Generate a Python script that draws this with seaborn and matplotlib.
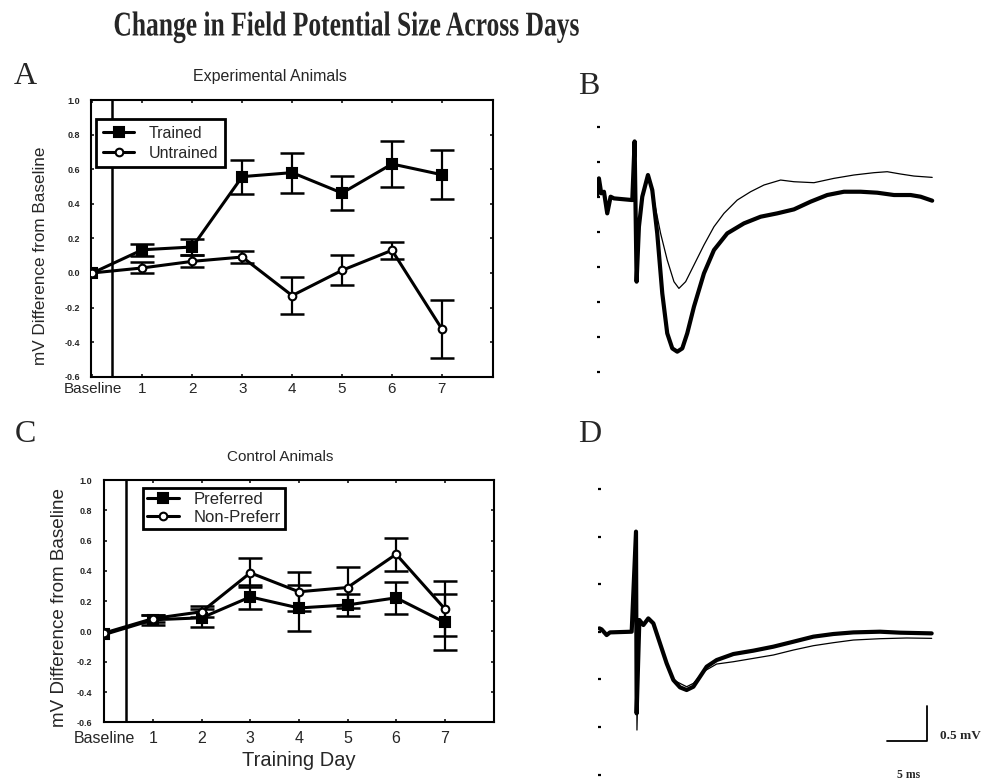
import numpy as np
import pandas as pd
import matplotlib
matplotlib.use("Agg")
import matplotlib.pyplot as plt
import matplotlib.patheffects as pe
from matplotlib.transforms import Affine2D
import seaborn as sns

# ---------------- data ----------------
days = [0, 1, 2, 3, 4, 5, 6, 7]
day_labels = ["Baseline", "1", "2", "3", "4", "5", "6", "7"]
mv_ticks = [-0.6, -0.4, -0.2, 0.0, 0.2, 0.4, 0.6, 0.8, 1.0]
mv_tick_labels = ["-0.6", "-0.4", "-0.2", "0.0", "0.2", "0.4", "0.6", "0.8", "1.0"]

# Panel A: experimental animals
trained_mean = [0.00, 0.134, 0.150, 0.557, 0.580, 0.462, 0.630, 0.568]
trained_err = [0.0, 0.034, 0.045, 0.098, 0.115, 0.100, 0.135, 0.143]
untrained_mean = [0.00, 0.029, 0.067, 0.092, -0.131, 0.015, 0.131, -0.324]
untrained_err = [0.0, 0.032, 0.035, 0.033, 0.108, 0.087, 0.048, 0.168]

# Panel C: control animals
preferred_mean = [-0.02, 0.077, 0.090, 0.228, 0.155, 0.175, 0.222, 0.060]
preferred_err = [0.0, 0.033, 0.060, 0.080, 0.150, 0.075, 0.105, 0.185]
nonpref_mean = [-0.01, 0.085, 0.130, 0.387, 0.262, 0.290, 0.510, 0.150]
nonpref_err = [0.0, 0.025, 0.035, 0.095, 0.130, 0.135, 0.110, 0.180]

# Panel B: field potential traces (ms, mV)
b_thick_ms = [-4.67, -4.46, -4.17, -3.83, -3.42, -3.0, -2.58, -0.29, 0.0, 0.25, 0.54, 0.96,
              1.67, 2.21, 2.83, 3.46, 4.08, 4.71, 5.33, 5.96, 6.58, 7.42, 8.67, 9.92, 11.58,
              13.67, 15.75, 17.83, 19.92, 22.0, 24.08, 26.17, 28.25, 30.33, 32.42, 34.5, 35.75, 37.2]
b_thick_mv = [0.024, 0.262, 0.048, 0.071, -0.238, 0.0, -0.024, -0.048, 0.79, -1.214, -0.429, 0.0,
              0.31, 0.095, -0.524, -1.381, -1.952, -2.167, -2.214, -2.167, -1.952, -1.571, -1.095,
              -0.762, -0.524, -0.381, -0.286, -0.238, -0.181, -0.071, 0.024, 0.071, 0.071, 0.057,
              0.024, 0.024, 0.0, -0.057]
b_thin_ms = [0.96, 1.67, 2.42, 3.25, 4.08, 4.92, 5.54, 6.38, 7.42, 8.67, 9.92, 11.17, 12.83,
             14.5, 16.17, 18.25, 19.92, 22.42, 24.92, 27.42, 29.92, 31.58, 33.25, 34.92, 37.2]
b_thin_mv = [0.0, 0.286, -0.048, -0.524, -0.905, -1.214, -1.31, -1.214, -0.976, -0.69, -0.429,
             -0.238, -0.048, 0.071, 0.167, 0.238, 0.214, 0.2, 0.262, 0.31, 0.343, 0.357, 0.324,
             0.295, 0.276]
b_dots_mv = [1.0, 0.5, 0.0, -0.5, -1.0, -1.5, -2.0, -2.5]

# Panel D: field potential traces (ms, mV)
d_thick_ms = [-4.58, -4.3, -3.67, -3.25, -0.54, 0.0, 0.08, 0.42, 0.92, 1.54, 2.17, 3.0, 3.83,
              4.67, 5.5, 6.33, 7.17, 8.0, 8.83, 10.08, 12.17, 14.67, 17.17, 19.67, 22.17, 24.67,
              27.17, 30.5, 33.0, 36.96]
d_thick_mv = [0.048, 0.033, -0.048, -0.01, 0.0, 1.43, -1.167, 0.167, 0.095, 0.19, 0.119, -0.167,
              -0.452, -0.69, -0.795, -0.833, -0.786, -0.643, -0.5, -0.405, -0.319, -0.271, -0.214,
              -0.143, -0.071, -0.033, -0.01, 0.0, -0.014, -0.024]
d_thin_ms = [-0.54, 0.0, 0.12, 0.42, 0.92, 1.54, 2.17, 3.0, 3.83, 4.67, 5.5, 6.33, 7.17, 8.42,
             10.08, 12.17, 14.67, 17.17, 19.67, 22.17, 24.67, 27.17, 30.5, 33.83, 36.96]
d_thin_mv = [0.0, 1.43, -1.405, 0.167, 0.095, 0.19, 0.119, -0.167, -0.452, -0.69, -0.738,
             -0.786, -0.738, -0.571, -0.462, -0.429, -0.381, -0.333, -0.262, -0.2, -0.157,
             -0.119, -0.1, -0.09, -0.095]
d_dots_mv = [2.04, 1.36, 0.68, 0.0, -0.68, -1.36, -2.04]
scale_ms = [31.33, 36.33]
scale_mv = [-1.557, -1.062]

# ---------------- style ----------------
sns.set_style("ticks")
plt.rcParams["font.family"] = ["Liberation Sans", "DejaVu Sans"]
plt.rcParams["axes.linewidth"] = 1.5

W, H = 989, 782
fig = plt.figure(figsize=(W / 100, H / 100), dpi=100)


def px_axes(left, top, right, bottom):
    return fig.add_axes([left / W, 1 - bottom / H, (right - left) / W, (bottom - top) / H])


axA = px_axes(91, 100, 493.3, 376.7)
axC = px_axes(103.5, 480, 494.3, 722.3)
axB = px_axes(597, 119.7, 938.6, 378.7)
axD = px_axes(598.4, 477.7, 940, 778.7)


def summary_panel(ax, series, xlim, vline_x, xfs, leg_anchor, leg_fs, leg_kw):
    for name, mean, err, filled in series:
        df = pd.DataFrame({"day": days, "mv": mean})
        sns.lineplot(data=df, x="day", y="mv", ax=ax, color="black", lw=2.2,
                     marker="s" if filled else "o", markersize=6.5 if filled else 5.5,
                     mfc="black" if filled else "white", mec="black", mew=1.5,
                     label=name, sort=False, estimator=None, zorder=4)
        ax.errorbar(days[1:], mean[1:], yerr=err[1:], fmt="none", ecolor="black",
                    elinewidth=1.6, capsize=8.5, capthick=1.8, zorder=3, label="_nolegend_")
    ax.axvline(vline_x, color="black", lw=1.8, zorder=2)
    ax.set_xlim(*xlim)
    ax.set_ylim(-0.6, 1.0)
    ax.set_xticks(days)
    ax.set_xticklabels(day_labels, fontsize=xfs)
    ax.set_yticks(mv_ticks)
    ax.set_yticklabels(mv_tick_labels, fontsize=6.5, fontweight="bold")
    ax.tick_params(direction="in", length=2.5, width=1.3, top=True, right=True)
    ax.tick_params(axis="x", pad=4)
    ax.tick_params(axis="y", pad=8)
    ax.set_xlabel("")
    for s in ax.spines.values():
        s.set_linewidth(1.5)
        s.set_color("black")
    leg = ax.legend(loc="upper left", bbox_to_anchor=leg_anchor, borderaxespad=0,
                    frameon=True, fancybox=False, edgecolor="black", framealpha=1,
                    fontsize=leg_fs, handletextpad=0.9, **leg_kw)
    leg.get_frame().set_linewidth(2)


summary_panel(axA,
              [("Trained", trained_mean, trained_err, True),
               ("Untrained", untrained_mean, untrained_err, False)],
              (-0.03, 8.03), 0.4, 11, (0.012, 0.931), 11.5,
              dict(handlelength=2.0, borderpad=0.42, labelspacing=0.3))
axA.set_ylabel("mV Difference from Baseline", fontsize=12.3)
axA.yaxis.set_label_coords(-0.108, 0.436)

summary_panel(axC,
              [("Preferred", preferred_mean, preferred_err, True),
               ("Non-Preferr", nonpref_mean, nonpref_err, False)],
              (-0.02, 8.02), 0.44, 11.5, (0.101, 0.967), 12,
              dict(handlelength=1.9, borderpad=0.25, labelspacing=0.15))
axC.tick_params(axis="x", pad=6)
axC.set_ylabel("mV Difference from Baseline", fontsize=13.6)
axC.yaxis.set_label_coords(-0.091, 0.472)
axC.set_xlabel("Training Day", fontsize=14.5, labelpad=4)

fig.text(270 / W, 1 - 77 / H, "Experimental Animals", ha="center", va="center", fontsize=11.5)
fig.text(280 / W, 1 - 457 / H, "Control Animals", ha="center", va="center", fontsize=11)


def trace_panel(ax, thick_t, thick_v, thin_t, thin_v, dots, xlim, ylim):
    sns.lineplot(x=thin_t, y=thin_v, ax=ax, color="black", lw=0.9, sort=False,
                 estimator=None, zorder=3)
    sns.lineplot(x=thick_t, y=thick_v, ax=ax, color="black", lw=3.0, sort=False,
                 estimator=None, zorder=2, solid_joinstyle="round")
    ax.set_xlim(*xlim)
    ax.set_ylim(*ylim)
    for s in ax.spines.values():
        s.set_visible(False)
    ax.set_xticks([])
    ax.set_yticks(dots)
    ax.set_yticklabels([])
    ax.tick_params(axis="y", direction="in", length=2, width=1.6, left=True, colors="black")
    ax.set_xlabel("")
    ax.set_ylabel("")
    ax.patch.set_alpha(0)


trace_panel(axB, b_thick_ms, b_thick_mv, b_thin_ms, b_thin_mv, b_dots_mv, (-4.7, 38), (-2.6, 1.1))
trace_panel(axD, d_thick_ms, d_thick_mv, d_thin_ms, d_thin_mv, d_dots_mv, (-4.7, 38), (-2.1, 2.2))

# scale bar in panel D
axD.plot([scale_ms[0], scale_ms[1], scale_ms[1]], [scale_mv[0], scale_mv[0], scale_mv[1]],
         color="black", lw=1.3, clip_on=False)
axD.text(38.0, scale_mv[0] + 0.07, "0.5 mV", fontsize=9.5, family="Liberation Serif",
         fontweight="bold", ha="left", va="center")
axD.text(34.1, -2.05, "5 ms", fontsize=8.5, family="Liberation Serif", fontweight="bold",
         ha="center", va="center")


class HStretch(pe.AbstractPathEffect):
    """Render glyphs horizontally condensed around a fixed display x (the title centre)."""

    def __init__(self, sx, cx):
        super().__init__()
        self.sx = sx
        self.cx = cx

    def draw_path(self, renderer, gc, tpath, affine, rgbFace=None):
        aff = affine + Affine2D().translate(-self.cx, 0).scale(self.sx, 1).translate(self.cx, 0)
        renderer.draw_path(gc, tpath, aff, rgbFace)


# title and panel letters
title_cx = 346.5
fig.text(title_cx / W, 1 - 27 / H, "Change in Field Potential Size Across Days",
         ha="center", va="center", fontsize=25, fontweight="bold", family="Liberation Serif",
         path_effects=[HStretch(0.735, title_cx)])
for letter, x, y in [("A", 25, 77), ("B", 589, 86), ("C", 25, 434), ("D", 590, 434)]:
    fig.text(x / W, 1 - y / H, letter, ha="center", va="center", fontsize=23,
             family="Liberation Serif")

fig.savefig("out.png", dpi=100, facecolor="white")
